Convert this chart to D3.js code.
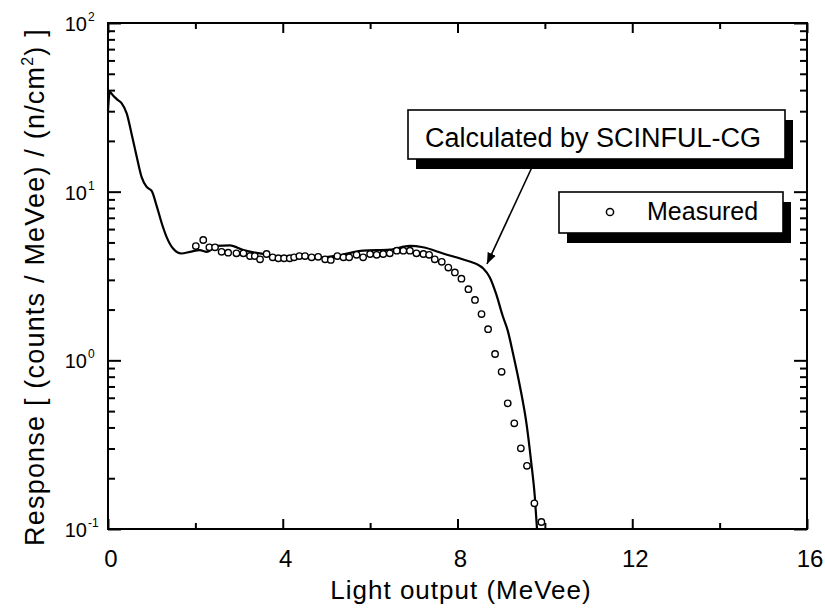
<!DOCTYPE html>
<html>
<head>
<style>
  body { margin: 0; background: #fff; }
  text { font-family: "Liberation Sans", Arial, sans-serif; fill: #000; }
</style>
</head>
<body>
<svg id="chart" width="825" height="611"></svg>
<script src="https://d3js.org/d3.v7.min.js"></script>
<script>
// calculated response (SCINFUL-CG): light output [MeVee], response
const calcX = [0.0, 0.04, 0.12, 0.22, 0.31, 0.43, 0.54, 0.66, 0.77, 0.88, 1.0, 1.11, 1.23, 1.34, 1.49, 1.68, 1.88, 2.1, 2.26, 2.49, 2.79, 3.1, 3.55, 4.16, 4.93, 5.3, 5.84, 6.45, 6.91, 7.21, 7.67, 8.28, 8.44, 8.59, 8.74, 8.89, 9.03, 9.15, 9.27, 9.43, 9.58, 9.69, 9.77, 9.82]
const calcY = [30, 39, 37, 35, 33.5, 29, 22, 16, 12.2, 10.7, 10.1, 8.3, 6.5, 5.4, 4.6, 4.3, 4.4, 4.5, 4.4, 4.77, 4.8, 4.5, 4.27, 4.08, 4.08, 4.2, 4.47, 4.53, 4.77, 4.68, 4.3, 3.85, 3.72, 3.5, 3.1, 2.45, 1.85, 1.5, 1.1, 0.70, 0.42, 0.245, 0.155, 0.1]

// measured points
const measX = [2.01, 2.18, 2.32, 2.45, 2.60, 2.75, 2.94, 3.10, 3.25, 3.36, 3.48, 3.63, 3.77, 3.90, 4.03, 4.16, 4.26, 4.38, 4.51, 4.66, 4.81, 4.97, 5.10, 5.25, 5.39, 5.52, 5.69, 5.84, 6.00, 6.15, 6.30, 6.45, 6.61, 6.76, 6.91, 7.06, 7.22, 7.35, 7.48, 7.64, 7.79, 7.94, 8.09, 8.25, 8.40, 8.55, 8.70, 8.86, 9.01, 9.15, 9.30, 9.45, 9.59, 9.76, 9.92]
const measY = [4.76, 5.17, 4.68, 4.68, 4.40, 4.35, 4.31, 4.31, 4.15, 4.15, 3.97, 4.27, 4.08, 4.03, 4.03, 4.03, 4.08, 4.15, 4.15, 4.08, 4.11, 3.97, 3.94, 4.15, 4.08, 4.08, 4.22, 4.08, 4.27, 4.22, 4.27, 4.31, 4.47, 4.47, 4.47, 4.31, 4.27, 4.22, 3.97, 3.84, 3.55, 3.32, 3.05, 2.64, 2.28, 1.88, 1.53, 1.09, 0.855, 0.556, 0.423, 0.301, 0.237, 0.142, 0.110]

const xMajor = [0, 4, 8, 12, 16]
const xMinor = [2, 6, 10, 14]
const yMajor = [0.1, 1, 10, 100]
const yExp = ['-1', '0', '1', '2']
const yMinor = [0.2, 0.3, 0.4, 0.5, 0.6, 0.7, 0.8, 0.9, 2, 3, 4, 5, 6, 7, 8, 9, 20, 30, 40, 50, 60, 70, 80, 90]

const svg = d3.select('#chart')
const L = 108, R = 807, T = 23, B = 529

const x = d3.scaleLinear().domain([0, 16]).range([L, R])
const y = d3.scaleLog().domain([0.1, 100]).range([B, T])

// ticks (all pointing inwards)
function ticks(axisFn, scale, vals, size, transform) {
  const g = svg.append('g')
    .attr('transform', transform)
    .call(axisFn(scale).tickValues(vals).tickSize(size).tickFormat(''))
  g.select('.domain').remove()
  g.selectAll('line').attr('stroke', '#000').attr('stroke-width', 2)
}
ticks(d3.axisBottom, x, xMajor, -10, `translate(0,${B})`)
ticks(d3.axisBottom, x, xMinor, -6, `translate(0,${B})`)
ticks(d3.axisTop, x, xMajor, -10, `translate(0,${T})`)
ticks(d3.axisTop, x, xMinor, -6, `translate(0,${T})`)
ticks(d3.axisLeft, y, yMajor, -13, `translate(${L},0)`)
ticks(d3.axisLeft, y, yMinor, -7, `translate(${L},0)`)
ticks(d3.axisRight, y, yMajor, -13, `translate(${R},0)`)
ticks(d3.axisRight, y, yMinor, -7, `translate(${R},0)`)

// frame
svg.append('rect')
  .attr('x', L).attr('y', T).attr('width', R - L).attr('height', B - T)
  .attr('fill', 'none').attr('stroke', '#000').attr('stroke-width', 2)

// x tick labels
svg.selectAll('.xl').data(xMajor).join('text')
  .attr('x', d => x(d) + 3).attr('y', 567)
  .attr('text-anchor', 'middle')
  .style('font-size', '24px')
  .text(d => d)

// y tick labels 10^n
yMajor.forEach((v, i) => {
  svg.append('text')
    .attr('x', 87).attr('y', y(v) + 8)
    .attr('text-anchor', 'end')
    .style('font-size', '20px')
    .text('10')
  svg.append('text')
    .attr('x', 88).attr('y', y(v) - 2)
    .style('font-size', '12px')
    .text(yExp[i])
})

// axis titles
svg.append('text')
  .attr('x', 461).attr('y', 599)
  .attr('text-anchor', 'middle')
  .style('font-size', '26px')
  .style('letter-spacing', '1px')
  .text('Light output (MeVee)')

const yt = svg.append('text')
  .attr('transform', 'translate(44,287) rotate(-90)')
  .attr('text-anchor', 'middle')
  .style('font-size', '27px')
  .style('letter-spacing', '1.2px')
yt.append('tspan').text('Response [ (counts / MeVee) / (n/cm')
yt.append('tspan').attr('dy', -11).style('font-size', '16px').text('2')
yt.append('tspan').attr('dy', 11).text(') ]')

// calculated curve
const calc = calcX.map((d, i) => [d, calcY[i]])
svg.append('path')
  .datum(calc)
  .attr('fill', 'none')
  .attr('stroke', '#000')
  .attr('stroke-width', 2.2)
  .attr('d', d3.line().x(d => x(d[0])).y(d => y(d[1])).curve(d3.curveMonotoneX))

// measured points
const meas = measX.map((d, i) => [d, measY[i]])
svg.selectAll('.pt').data(meas).join('circle')
  .attr('cx', d => x(d[0])).attr('cy', d => y(d[1]))
  .attr('r', 3.2)
  .attr('fill', '#fff').attr('stroke', '#000').attr('stroke-width', 1.4)

// legend boxes with drop shadow
function shadowBox(bx, by, bw, bh) {
  svg.append('rect').attr('x', bx + 8).attr('y', by + 10).attr('width', bw).attr('height', bh).attr('fill', '#000')
  svg.append('rect').attr('x', bx).attr('y', by).attr('width', bw).attr('height', bh)
    .attr('fill', '#fff').attr('stroke', '#000').attr('stroke-width', 1.6)
}

// arrow
svg.append('defs').append('marker')
  .attr('id', 'ah').attr('viewBox', '0 0 10 10').attr('refX', 10).attr('refY', 5)
  .attr('markerWidth', 7).attr('markerHeight', 7).attr('orient', 'auto')
  .append('path').attr('d', 'M0,1 L10,5 L0,9 Z').attr('fill', '#000')
svg.append('line')
  .attr('x1', 533).attr('y1', 165).attr('x2', 487).attr('y2', 264)
  .attr('stroke', '#000').attr('stroke-width', 1.6)
  .attr('marker-end', 'url(#ah)')

shadowBox(408, 110, 377, 49)
svg.append('text').attr('x', 425).attr('y', 147).style('font-size', '27px').text('Calculated by SCINFUL-CG')

shadowBox(559, 192, 224, 41)
svg.append('circle').attr('cx', 610).attr('cy', 212).attr('r', 3.6)
  .attr('fill', '#fff').attr('stroke', '#000').attr('stroke-width', 1.5)
svg.append('text').attr('x', 647).attr('y', 220).style('font-size', '25px').text('Measured')
</script>
</body>
</html>
